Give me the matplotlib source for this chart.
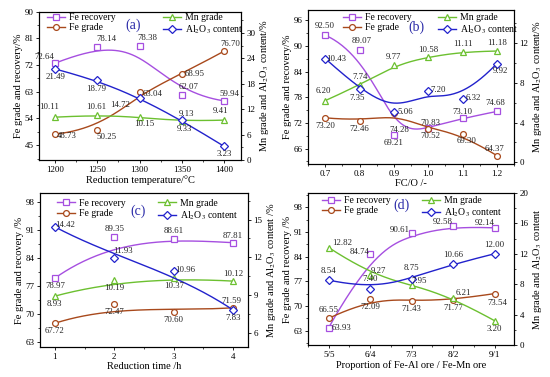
import numpy as np
import matplotlib
matplotlib.use('Agg')
import matplotlib.pyplot as plt
from matplotlib.lines import Line2D
from matplotlib.ticker import AutoMinorLocator

plt.rcParams['font.family'] = ['Liberation Serif', 'DejaVu Serif']
plt.rcParams['mathtext.fontset'] = 'stix'

W, H = 550, 377

# (a) reduction temperature
temp = [1200, 1250, 1300, 1350, 1400]
a_fe_rec = [72.64, 78.14, 78.38, 62.07, 59.94]
a_fe_grade = [48.73, 50.25, 63.04, 68.95, 76.70]
a_mn = [10.11, 10.61, 10.15, 9.13, 9.41]
a_al = [21.49, 18.79, 14.72, 9.33, 3.23]

# (b) FC/O
fco = [0.7, 0.8, 0.9, 1.0, 1.1, 1.2]
b_fe_rec = [92.50, 89.07, 69.21, 70.83, 73.10, 74.68]
b_fe_grade = [73.20, 72.46, 74.28, 70.52, 69.30, 64.37]
b_mn = [6.20, 7.74, 9.77, 10.58, 11.11, 11.18]
b_al = [10.43, 7.35, 5.06, 7.20, 6.32, 9.92]

# (c) reduction time
time_h = [1, 2, 3, 4]
c_fe_rec = [78.97, 89.35, 88.61, 87.81]
c_fe_grade = [67.72, 72.47, 70.60, 71.59]
c_mn = [8.93, 10.19, 10.37, 10.12]
c_al = [14.42, 11.93, 10.96, 7.83]

# (d) ore proportion
ratio = ['5/5', '6/4', '7/3', '8/2', '9/1']
d_fe_rec = [63.93, 84.74, 90.61, 92.58, 92.14]
d_fe_grade = [66.55, 72.09, 71.43, 71.77, 73.54]
d_mn = [12.82, 9.27, 7.95, 6.21, 3.20]
d_al = [8.54, 7.40, 8.75, 10.66, 12.00]

C_REC = '#a64fe0'
C_GR = '#a8491c'
C_MN = '#6cc030'
C_AL = '#2222cc'
AL = r'Al$_2$O$_3$'


def bspline(xs, ys, n=200):
    # clamped cubic B-spline using the points as control points (Origin style)
    P = np.column_stack([xs, ys]).astype(float)
    m = len(P)
    k = min(3, m - 1)
    inner = np.linspace(0, 1, m - k + 1)[1:-1]
    knots = np.concatenate([np.zeros(k + 1), inner, np.ones(k + 1)])
    t = np.linspace(0, 1, n)
    t[-1] = 1 - 1e-9

    def N(i, p):
        if p == 0:
            return ((knots[i] <= t) & (t < knots[i + 1])).astype(float)
        out = np.zeros_like(t)
        d1 = knots[i + p] - knots[i]
        d2 = knots[i + p + 1] - knots[i + 1]
        if d1 > 0:
            out += (t - knots[i]) / d1 * N(i, p - 1)
        if d2 > 0:
            out += (knots[i + p + 1] - t) / d2 * N(i + 1, p - 1)
        return out

    B = np.array([N(i, k) for i in range(m)])
    C = B.T @ P
    return C[:, 0], C[:, 1]


def fig_box(box):
    x0, y0, x1, y1 = box
    return [x0 / W, 1 - y1 / H, (x1 - x0) / W, (y1 - y0) / H]


def style_axis(ax):
    ax.tick_params(which='major', direction='out', length=2.5, width=0.6,
                   labelsize=6.5, pad=1.5)
    ax.tick_params(which='minor', direction='out', length=1.5, width=0.5)
    for s in ax.spines.values():
        s.set_linewidth(0.8)


def panel(box, x, series, xlim, yl, yr, tl, tr, xlabel, ylab_l, ylab_r,
          letter, letter_pos, leg, offs, xticklabels=None):
    ax = fig.add_axes(fig_box(box))
    ax2 = ax.twinx()
    xs = np.arange(len(x)) if xticklabels is not None else np.array(x, float)
    specs = [('Fe recovery', C_REC, 's', ax),
             ('Fe grade', C_GR, 'o', ax),
             ('Mn grade', C_MN, '^', ax2),
             (AL + ' content', C_AL, 'D', ax2)]
    handles = []
    for (lab, col, mk, a), ys, of in zip(specs, series, offs):
        cx, cy = bspline(xs, ys)
        a.plot(cx, cy, color=col, lw=1.0)
        ms = 3.6 if mk == 'D' else 4.2
        a.plot(xs, ys, ls='none', marker=mk, ms=ms, mfc='white', mec=col, mew=0.9)
        for xi, yi, (dx, dy) in zip(xs, ys, of):
            a.annotate(f'{yi:.2f}', (xi, yi), xytext=(dx, dy),
                       textcoords='offset pixels', ha='center', va='center',
                       fontsize=6.3, color='#222222')
        handles.append(Line2D([], [], color=col, lw=1.0, marker=mk, ms=ms,
                              mfc='white', mec=col, mew=0.9, label=lab))
    ax.set_xlim(*xlim)
    ax.set_ylim(*yl)
    ax2.set_ylim(*yr)
    ax.set_yticks(tl)
    ax2.set_yticks(tr)
    if xticklabels is not None:
        ax.set_xticks(xs)
        ax.set_xticklabels(xticklabels)
    else:
        ax.set_xticks(x)
    ax.xaxis.set_minor_locator(AutoMinorLocator(2))
    ax.yaxis.set_minor_locator(AutoMinorLocator(2))
    ax2.yaxis.set_minor_locator(AutoMinorLocator(2))
    style_axis(ax)
    style_axis(ax2)
    ax.set_xlabel(xlabel, fontsize=7.5, labelpad=1)
    ax.set_ylabel(ylab_l, fontsize=7.5, labelpad=1)
    ax2.set_ylabel(ylab_r, fontsize=7.5, labelpad=2)
    lx1, ly, lx2 = leg
    for hs, lx in ((handles[:2], lx1), (handles[2:], lx2)):
        fig.legend(handles=hs, loc='upper left',
                   bbox_to_anchor=(lx / W, 1 - (ly - 5) / H),
                   bbox_transform=fig.transFigure, frameon=False,
                   borderpad=0, borderaxespad=0, fontsize=7,
                   handlelength=1.9, handletextpad=0.4, labelspacing=0.15)
    fig.text(letter_pos[0] / W, 1 - letter_pos[1] / H, letter, fontsize=10,
             color='#2a2aa8', ha='center', va='center')
    return ax, ax2


fig = plt.figure(figsize=(W / 100, H / 100), dpi=100)

offs_a = [[(-11, 6), (9, 8), (8, 8), (7, 8), (5, 7)],
          [(12, -2), (9, -7), (13, -2), (13, 0), (6, 7)],
          [(-6, 10), (-1, 8), (5, -7), (5, 7), (-4, 9)],
          [(0, -8), (-1, -9), (-19, -7), (3, -9), (0, -8)]]
offs_b = [[(0, 9), (2, 9), (0, -8), (2, 5), (0, 6), (-2, 8)],
          [(0, -8), (0, -8), (5, -17), (2, -7), (4, -7), (-2, 7)],
          [(-2, 10), (1, 8), (0, 8), (0, 7), (0, 8), (0, 8)],
          [(11, 0), (-2, -9), (11, 0), (10, 1), (11, 1), (4, -7)]]
offs_c = [[(0, -8), (0, 8), (0, 8), (0, 7)],
          [(0, -8), (0, -8), (0, -8), (-2, 7)],
          [(0, -8), (0, -8), (0, -8), (0, 7)],
          [(10, 2), (9, 7), (11, 1), (0, -8)]]
offs_d = [[(13, 0), (-11, 2), (-12, 3), (-10, 4), (-10, 5)],
          [(0, 8), (0, -8), (0, -8), (0, -8), (3, -9)],
          [(13, 5), (8, 4), (8, 4), (10, 5), (0, -8)],
          [(0, 9), (0, 10), (0, 10), (0, 9), (0, 9)]]

panel((39, 11.7, 241, 160), temp, [a_fe_rec, a_fe_grade, a_mn, a_al],
      (1181, 1420), (40, 90), (0, 35),
      np.arange(45, 91, 9), np.arange(0, 31, 6),
      'Reduction temperature/°C', 'Fe grade and recovery/%',
      'Mn grade and ' + AL + ' content/%', '(a)', (133, 25),
      (47, 18, 163), offs_a)

panel((308, 10, 514, 164), fco, [b_fe_rec, b_fe_grade, b_mn, b_al],
      (0.65, 1.25), (62.4, 98.4), (-0.16, 15.3),
      np.arange(66, 97, 6), np.arange(0, 13, 4),
      'FC/O /-', 'Fe grade and recovery/%',
      'Mn grade and ' + AL + ' content/%', '(b)', (416, 27),
      (343, 18, 438), offs_b)

panel((40, 193, 248, 347), time_h, [c_fe_rec, c_fe_grade, c_mn, c_al],
      (0.75, 4.25), (61.8, 100.2), (4.9, 17.1),
      np.arange(63, 99, 7), np.arange(6, 16, 3),
      'Reduction time /h', 'Fe grade and recovery /%',
      'Mn grade and ' + AL + ' content /%', '(c)', (138, 211),
      (57, 203.7, 158), offs_c)

panel((308, 193, 514, 345), ratio, [d_fe_rec, d_fe_grade, d_mn, d_al],
      (-0.5, 4.47), (59, 102), (0, 20),
      np.arange(63, 99, 7), np.arange(0, 21, 4),
      'Proportion of Fe-Al ore / Fe-Mn ore', 'Fe grade and recovery /%',
      'Mn grade and ' + AL + ' content', '(d)', (402, 205),
      (322, 201, 422), offs_d, xticklabels=ratio)

fig.savefig('out.png', dpi=100)
